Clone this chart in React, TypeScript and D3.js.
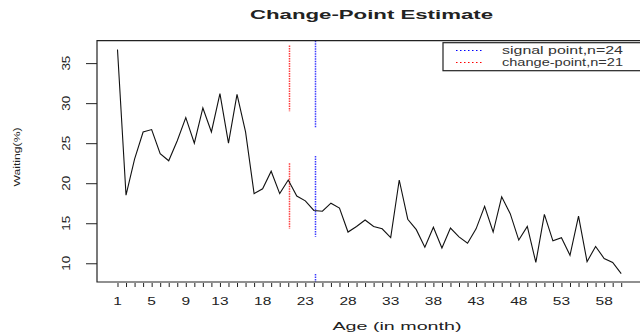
import React, { useEffect, useRef } from 'react';
import * as d3 from 'd3';

// monthly values, month 1..60
const months: number[] = d3.range(1, 61);
const values: number[] = [
  36.7, 18.5, 23.0, 26.4, 26.7, 23.7, 22.8, 25.3, 28.2, 25.0,
  29.4, 26.4, 31.2, 25.0, 31.1, 26.4, 18.7, 19.3, 21.5, 18.7,
  20.4, 18.4, 17.8, 16.6, 16.5, 17.5, 16.9, 13.9, 14.6, 15.4,
  14.6, 14.3, 13.2, 20.4, 15.5, 14.2, 12.0, 14.5, 11.9, 14.4,
  13.3, 12.5, 14.3, 17.1, 13.9, 18.3, 16.2, 12.9, 14.6, 10.1,
  16.1, 12.8, 13.2, 11.0, 15.9, 10.2, 12.1, 10.6, 10.1, 8.7,
];

const xLabels: number[] = [1, 5, 9, 13, 18, 23, 28, 33, 38, 43, 48, 53, 58];
const yTicks: number[] = [10, 15, 20, 25, 30, 35];

// vertical markers and the pieces of them that show in the picture (value ranges)
const signalPoint = 24;
const changePoint = 21;
const signalSegments: [number, number][] = [[37.8, 27.0], [23.4, 13.3], [8.66, 7.66]];
const changeSegments: [number, number][] = [[37.2, 29.0], [22.5, 14.3]];

const legendItems = [
  { label: 'signal point,n=24', color: 'blue' },
  { label: 'change-point,n=21', color: 'red' },
];

const App = () => {
  const svgRef = useRef<SVGSVGElement>(null);

  useEffect(() => {
    const width = 640;
    const height = 332;
    const plot = { left: 97, right: 640, top: 40.7, bottom: 282 };
    const font = 'Liberation Sans, Arial, sans-serif';

    const svg = d3.select(svgRef.current);
    svg.selectAll('*').remove();
    svg.attr('width', width).attr('height', height);

    // R style padded domains
    const xScale = d3.scaleLinear().domain([-1.4, 62.2]).range([plot.left, plot.right]);
    const yScale = d3.scaleLinear().domain([7.66, 37.8]).range([plot.bottom, plot.top]);

    // title
    svg.append('text')
      .attr('x', 250).attr('y', 19)
      .attr('font-family', font).attr('font-size', 13).attr('font-weight', 'bold')
      .attr('fill', '#222')
      .attr('textLength', 243).attr('lengthAdjust', 'spacingAndGlyphs')
      .text('Change-Point Estimate');

    // x axis ticks (every month)
    const xAxis = svg.append('g')
      .attr('transform', `translate(0, ${plot.bottom + 1})`)
      .call(
        d3.axisBottom(xScale)
          .tickValues(months)
          .tickSize(4)
          .tickSizeOuter(0)
          .tickFormat(() => '')
      );
    xAxis.select('.domain').remove();
    xAxis.selectAll('line').attr('stroke', '#222');

    // x labels, stretched wide like the original
    svg.append('g')
      .selectAll('text')
      .data(xLabels)
      .enter()
      .append('text')
      .attr('transform', d => `translate(${xScale(d)}, 305) scale(1.55,1)`)
      .attr('text-anchor', 'middle')
      .attr('font-family', font).attr('font-size', 10)
      .attr('fill', '#222')
      .text(d => d);

    // y axis ticks
    const yAxis = svg.append('g')
      .attr('transform', `translate(${plot.left}, 0)`)
      .call(d3.axisLeft(yScale).tickValues(yTicks).tickSize(11).tickSizeOuter(0).tickFormat(() => ''));
    yAxis.select('.domain').remove();
    yAxis.selectAll('line').attr('stroke', '#222');

    // y labels, rotated to read bottom-to-top
    const yLab = svg.append('g')
      .selectAll('g')
      .data(yTicks)
      .enter()
      .append('g')
      .attr('transform', d => `translate(70, ${yScale(d)})`);
    yLab.append('text')
      .attr('transform', 'rotate(-90)')
      .attr('x', 0).attr('y', 0)
      .attr('text-anchor', 'middle')
      .attr('font-family', font).attr('font-size', 11)
      .attr('fill', '#222')
      .attr('textLength', 15).attr('lengthAdjust', 'spacingAndGlyphs')
      .text(d => String(d));

    // axis titles
    svg.append('text')
      .attr('x', 397).attr('y', 330)
      .attr('text-anchor', 'middle')
      .attr('font-family', font).attr('font-size', 11)
      .attr('fill', '#222')
      .attr('textLength', 129).attr('lengthAdjust', 'spacingAndGlyphs')
      .text('Age (in month)');

    svg.append('text')
      .attr('transform', 'translate(20, 157) rotate(-90)')
      .attr('text-anchor', 'middle')
      .attr('font-family', font).attr('font-size', 9)
      .attr('fill', '#222')
      .attr('textLength', 59).attr('lengthAdjust', 'spacingAndGlyphs')
      .text('Waiting(%)');

    // vertical marker segments
    const drawMarker = (at: number, segs: [number, number][], color: string) => {
      const px = Math.round(xScale(at)) + 1.5;
      svg.selectAll(null)
        .data(segs)
        .enter()
        .append('line')
        .attr('x1', px).attr('x2', px)
        .attr('y1', d => yScale(d[0])).attr('y2', d => yScale(d[1]))
        .attr('stroke', color)
        .attr('stroke-width', 1.5)
        .attr('stroke-dasharray', '1.5,1');
    };
    drawMarker(changePoint, changeSegments, '#ff3b3b');
    drawMarker(signalPoint, signalSegments, '#3b3bff');

    // data line
    const line = d3.line<number>()
      .x((_, i) => xScale(months[i]))
      .y(d => yScale(d));

    svg.append('path')
      .datum(values)
      .attr('fill', 'none')
      .attr('stroke', '#111')
      .attr('stroke-width', 1.1)
      .attr('d', line);

    // frame
    svg.append('path')
      .attr('d', `M${plot.right + 5},${plot.top}H${plot.left}V${plot.bottom}H${plot.right + 5}`)
      .attr('fill', 'none')
      .attr('stroke', '#222')
      .attr('stroke-width', 1.2);

    // legend
    const legend = svg.append('g');
    legend.append('rect')
      .attr('x', 443).attr('y', 42.7)
      .attr('width', 210).attr('height', 28)
      .attr('fill', 'white')
      .attr('stroke', '#222')
      .attr('stroke-width', 1.2);

    legendItems.forEach((item, i) => {
      const yy = 50.5 + i * 12;
      legend.append('line')
        .attr('x1', 456).attr('x2', 483)
        .attr('y1', yy).attr('y2', yy)
        .attr('stroke', item.color)
        .attr('stroke-width', 1.2)
        .attr('stroke-dasharray', '1.5,2.5');
      legend.append('text')
        .attr('x', 502).attr('y', yy + 3.5)
        .attr('font-family', font).attr('font-size', 10)
        .attr('fill', '#333')
        .attr('textLength', 121).attr('lengthAdjust', 'spacingAndGlyphs')
        .text(item.label);
    });
  }, []);

  return (
    <div style={{ position: 'absolute', left: 0, top: 0, width: 640, height: 332, background: 'white' }}>
      <svg ref={svgRef}></svg>
    </div>
  );
};

export default App;
